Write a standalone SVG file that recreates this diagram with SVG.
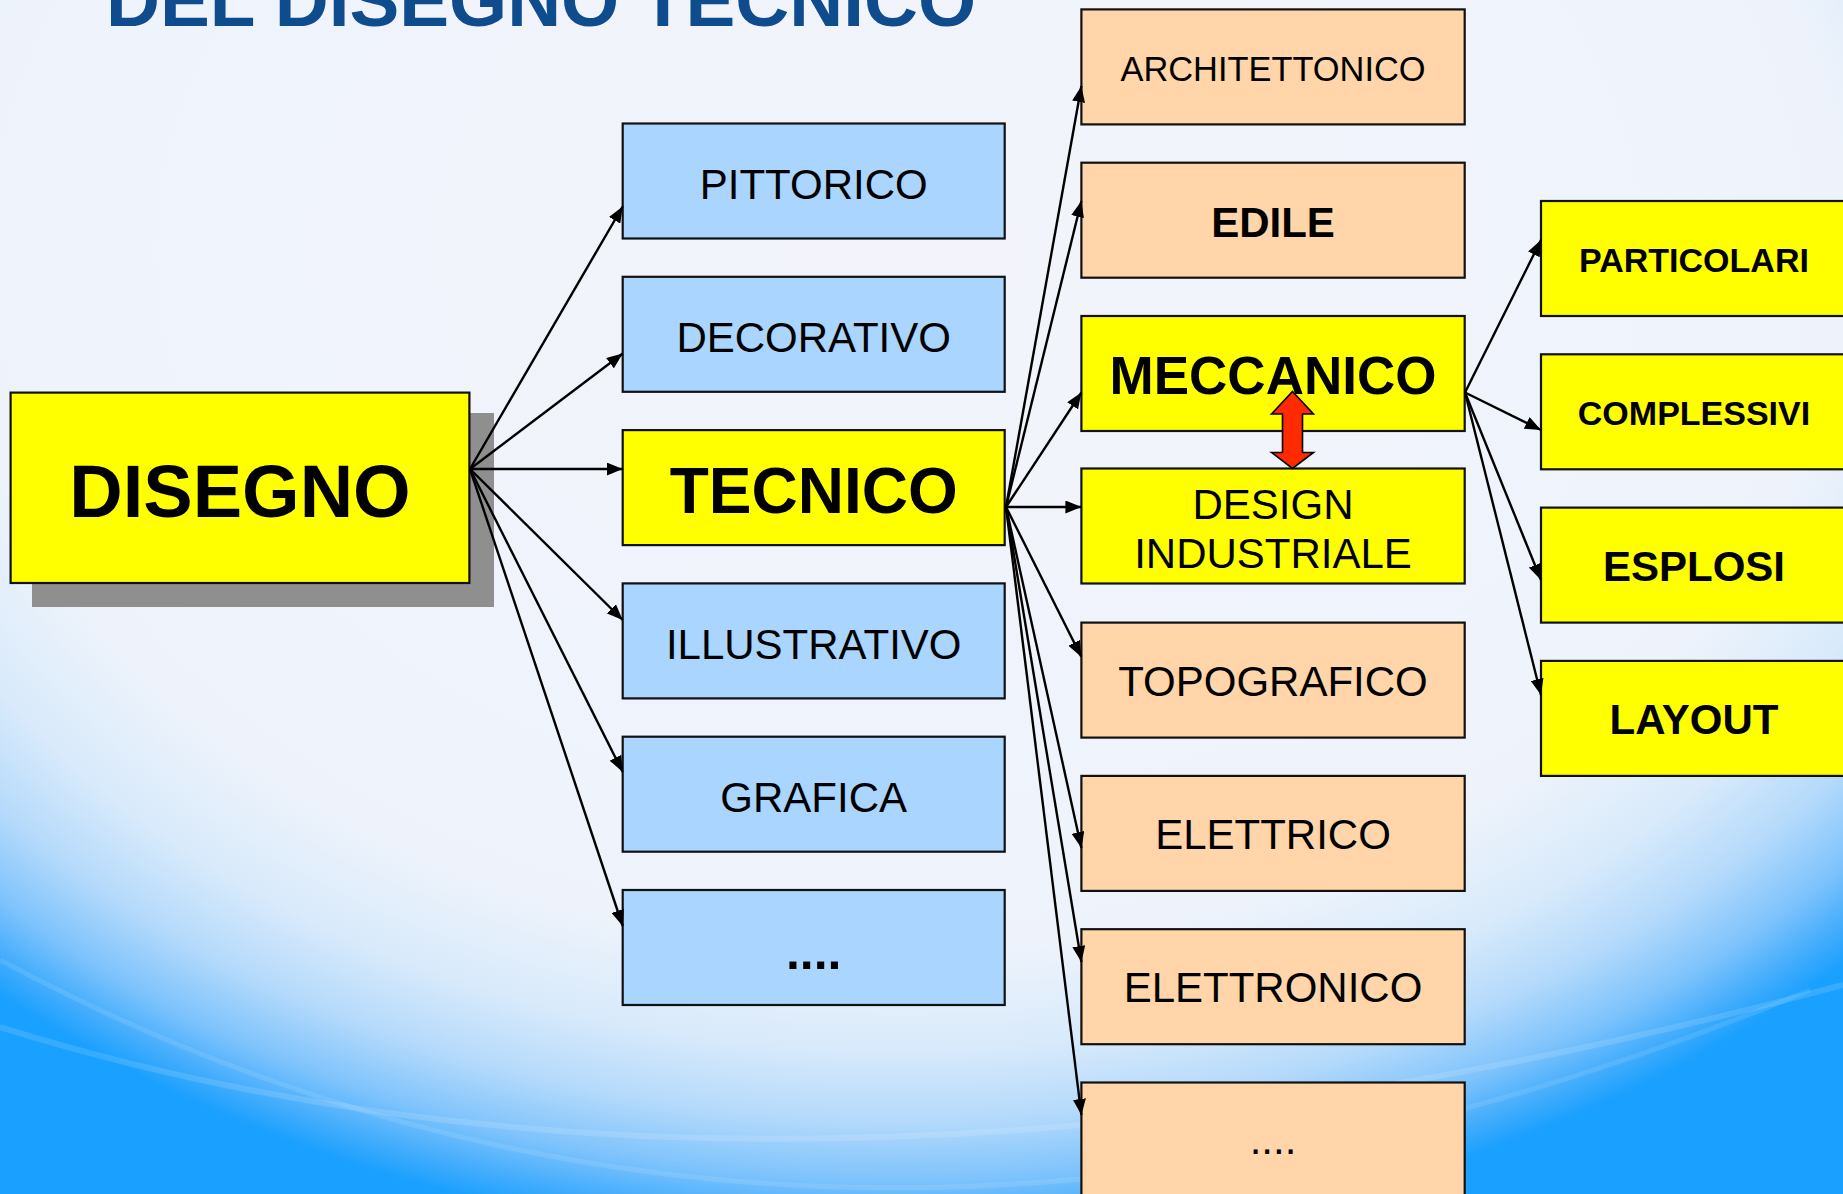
<svg xmlns="http://www.w3.org/2000/svg" width="1843" height="1194" viewBox="0 0 1843 1194">
<defs>
<radialGradient id="bg" gradientUnits="userSpaceOnUse" cx="900" cy="250" r="1000" gradientTransform="translate(900,250) scale(1.35,1) translate(-900,-250)">
<stop offset="0" stop-color="#F3F4FB"/>
<stop offset="0.7" stop-color="#EEF3FB"/>
<stop offset="0.8" stop-color="#D8EAFB"/>
<stop offset="0.87" stop-color="#B5DAFB"/>
<stop offset="0.93" stop-color="#7EC3FC"/>
<stop offset="0.97" stop-color="#45ADFC"/>
<stop offset="1" stop-color="#1AA0FE"/>
</radialGradient>
<marker id="ah" markerUnits="userSpaceOnUse" markerWidth="16" markerHeight="13" refX="16" refY="6.5" orient="auto">
<path d="M0,0 L16,6.5 L0,13 z" fill="#000"/>
</marker>
<style>
.box{stroke:#111;stroke-width:2.2}
.blue{fill:#A9D5FE}
.peach{fill:#FFD5A9}
.yel{fill:#FFFF00}
.t{font-family:"Liberation Sans",Arial,sans-serif;fill:#000;text-anchor:middle}
.b{font-weight:bold}
.con line{stroke:#000;stroke-width:2.4;marker-end:url(#ah)}
</style>
</defs>
<rect width="1843" height="1194" fill="#0599FE"/>
<rect width="1843" height="1194" fill="url(#bg)"/>
<path d="M0,1027 Q780,1270 1843,985" fill="none" stroke="#FFFFFF" stroke-opacity="0.13" stroke-width="6"/>
<path d="M0,960 Q820,1400 1810,990" fill="none" stroke="#FFFFFF" stroke-opacity="0.1" stroke-width="5"/>

<text class="t b" x="541" y="25.7" font-size="75" style="fill:#0E4C8E" textLength="870" lengthAdjust="spacingAndGlyphs">DEL DISEGNO TECNICO</text>

<g id="disegno">
<rect x="32" y="413" width="462" height="194" fill="#8F8F8F"/>
<rect class="box yel" x="10.6" y="392.6" width="458.8" height="190.4"/>
<text class="t b" x="240" y="517" font-size="74">DISEGNO</text>
</g>

<g id="pittorico"><rect class="box blue" x="622.7" y="123.5" width="382" height="115"/><text class="t" x="813.7" y="199" font-size="42">PITTORICO</text></g>
<g id="decorativo"><rect class="box blue" x="622.7" y="276.8" width="382" height="115"/><text class="t" x="813.7" y="352" font-size="42">DECORATIVO</text></g>
<g id="tecnico"><rect class="box yel" x="622.7" y="430.1" width="382" height="115"/><text class="t b" x="813.7" y="513" font-size="64">TECNICO</text></g>
<g id="illustrativo"><rect class="box blue" x="622.7" y="583.4" width="382" height="115"/><text class="t" x="813.7" y="658.5" font-size="42">ILLUSTRATIVO</text></g>
<g id="grafica"><rect class="box blue" x="622.7" y="736.7" width="382" height="115"/><text class="t" x="813.7" y="811.7" font-size="42">GRAFICA</text></g>
<g id="altro1"><rect class="box blue" x="622.7" y="890" width="382" height="115"/><text class="t b" x="813.7" y="969" font-size="50">....</text></g>

<g id="architettonico"><rect class="box peach" x="1081.4" y="9.4" width="383.3" height="115"/><text class="t" x="1273" y="81" font-size="34.4">ARCHITETTONICO</text></g>
<g id="edile"><rect class="box peach" x="1081.4" y="162.7" width="383.3" height="115"/><text class="t b" x="1273" y="237" font-size="42">EDILE</text></g>
<g id="meccanico"><rect class="box yel" x="1081.4" y="316" width="383.3" height="115"/><text class="t b" x="1273" y="394" font-size="53">MECCANICO</text></g>
<g id="design"><rect class="box yel" x="1081.4" y="468.5" width="383.3" height="115"/><text class="t" x="1273" y="518.6" font-size="42">DESIGN</text><text class="t" x="1273" y="567.5" font-size="42">INDUSTRIALE</text></g>
<g id="topografico"><rect class="box peach" x="1081.4" y="622.6" width="383.3" height="115"/><text class="t" x="1273" y="696.3" font-size="42">TOPOGRAFICO</text></g>
<g id="elettrico"><rect class="box peach" x="1081.4" y="775.9" width="383.3" height="115"/><text class="t" x="1273" y="849.4" font-size="42">ELETTRICO</text></g>
<g id="elettronico"><rect class="box peach" x="1081.4" y="929.2" width="383.3" height="115"/><text class="t" x="1273" y="1002" font-size="42">ELETTRONICO</text></g>
<g id="altro2"><rect class="box peach" x="1081.4" y="1082.5" width="383.3" height="115"/><text class="t" x="1273" y="1154" font-size="42">....</text></g>

<g id="particolari"><rect class="box yel" x="1541" y="201" width="310" height="115"/><text class="t b" x="1694" y="272" font-size="34">PARTICOLARI</text></g>
<g id="complessivi"><rect class="box yel" x="1541" y="354.3" width="310" height="115"/><text class="t b" x="1694" y="425" font-size="34">COMPLESSIVI</text></g>
<g id="esplosi"><rect class="box yel" x="1541" y="507.6" width="310" height="115"/><text class="t b" x="1694" y="581" font-size="42">ESPLOSI</text></g>
<g id="layout"><rect class="box yel" x="1541" y="660.9" width="310" height="115"/><text class="t b" x="1694" y="734" font-size="42">LAYOUT</text></g>

<g id="connectors" class="con">
<line x1="470" y1="469" x2="622.7" y2="206.5"/>
<line x1="470" y1="469" x2="622.7" y2="353.5"/>
<line x1="470" y1="469" x2="622.7" y2="469"/>
<line x1="470" y1="469" x2="622.7" y2="620"/>
<line x1="470" y1="469" x2="622.7" y2="772"/>
<line x1="470" y1="469" x2="622.7" y2="926"/>
<line x1="1006" y1="507" x2="1081.4" y2="86"/>
<line x1="1006" y1="507" x2="1081.4" y2="201"/>
<line x1="1006" y1="507" x2="1081.4" y2="392.5"/>
<line x1="1006" y1="507" x2="1081.4" y2="507"/>
<line x1="1006" y1="507" x2="1081.4" y2="657"/>
<line x1="1006" y1="507" x2="1081.4" y2="848"/>
<line x1="1006" y1="507" x2="1081.4" y2="962"/>
<line x1="1006" y1="507" x2="1081.4" y2="1115"/>
<line x1="1465" y1="392.5" x2="1541" y2="240"/>
<line x1="1465" y1="392.5" x2="1541" y2="430"/>
<line x1="1465" y1="392.5" x2="1541" y2="580"/>
<line x1="1465" y1="392.5" x2="1541" y2="695"/>
</g>

<g id="double-arrow">
<polygon points="1292.5,391.5 1313.5,414 1302.5,414 1302.5,452.5 1313.5,452.5 1292.5,468.5 1271.5,452.5 1282.5,452.5 1282.5,414 1271.5,414" fill="#FF2A00" stroke="#000" stroke-width="1.6" stroke-linejoin="miter"/>
</g>
</svg>
